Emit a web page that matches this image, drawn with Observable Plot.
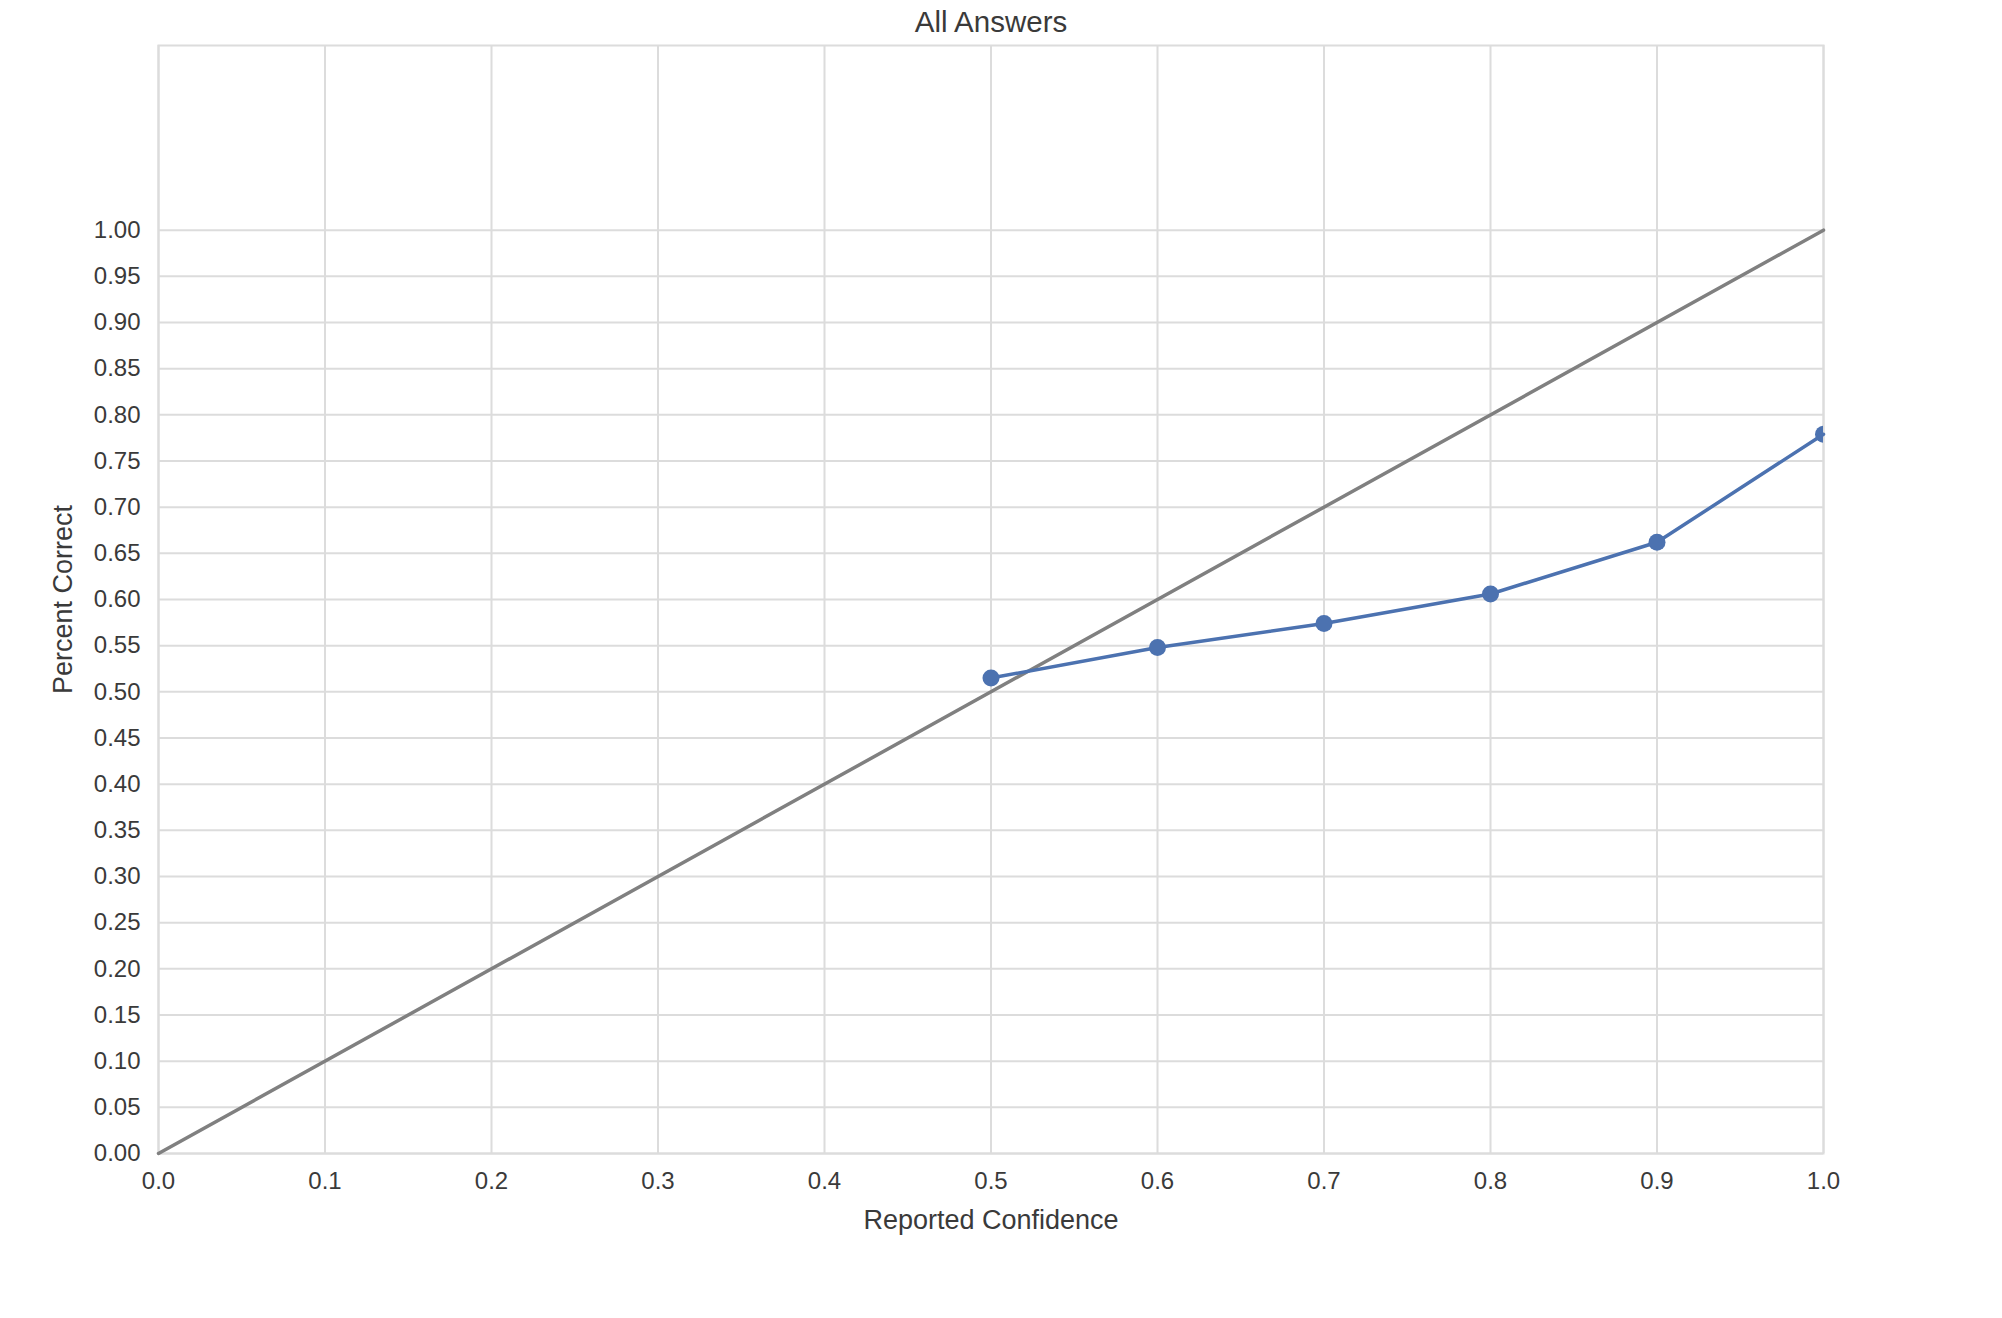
<!DOCTYPE html>
<html>
<head>
<meta charset="utf-8">
<script src="https://cdn.jsdelivr.net/npm/d3@7"></script>
<script src="https://cdn.jsdelivr.net/npm/@observablehq/plot@0.6"></script>
<style>
  html, body { margin: 0; padding: 0; background: white; }
</style>
</head>
<body>
<div id="chart"></div>
<script>
const confidence = [0.5, 0.6, 0.7, 0.8, 0.9, 1.0];
const percentCorrect = [0.515, 0.548, 0.574, 0.606, 0.662, 0.779];
const diagonalX = [0, 1];
const diagonalY = [0, 1];
const xTicks = [0, 0.1, 0.2, 0.3, 0.4, 0.5, 0.6, 0.7, 0.8, 0.9, 1.0];
const yTicks = [0, 0.05, 0.10, 0.15, 0.20, 0.25, 0.30, 0.35, 0.40, 0.45, 0.50,
                0.55, 0.60, 0.65, 0.70, 0.75, 0.80, 0.85, 0.90, 0.95, 1.00];
const title = "All Answers";
const xLabel = "Reported Confidence";
const yLabel = "Percent Correct";

const series = confidence.map((c, i) => ({x: c, y: percentCorrect[i]}));
const diagonal = diagonalX.map((c, i) => ({x: c, y: diagonalY[i]}));

const gridColor = "#dcdcdc";
const textColor = "#3a3a3a";
const font = "'Liberation Sans', Arial, Helvetica, sans-serif";

const chart = Plot.plot({
  width: 2002,
  height: 1318,
  marginTop: 45,
  marginLeft: 158,
  marginRight: 179,
  marginBottom: 165,
  style: {fontFamily: font, fontSize: "24px", color: textColor, background: "white"},
  x: {domain: [0, 1]},
  y: {domain: [0, 1.2]},
  marks: [
    Plot.ruleX(xTicks, {stroke: gridColor, strokeWidth: 2}),
    Plot.ruleY(yTicks, {stroke: gridColor, strokeWidth: 2}),
    Plot.frame({stroke: gridColor, strokeWidth: 2}),
    Plot.axisX({ticks: xTicks, tickSize: 0, tickPadding: 18, tickFormat: d3.format(".1f"), label: null, fill: textColor}),
    Plot.axisY({ticks: yTicks, tickSize: 0, tickPadding: 18, tickFormat: d3.format(".2f"), label: null, fill: textColor}),
    Plot.line(diagonal, {x: "x", y: "y", stroke: "#808080", strokeWidth: 3.5}),
    Plot.line(series, {x: "x", y: "y", stroke: "#4C72B0", strokeWidth: 3.5}),
    Plot.dot(series, {x: "x", y: "y", r: 8.5, fill: "#4C72B0", stroke: "none", clip: true}),
    Plot.text([title], {frameAnchor: "top", dy: -23, text: d => d, fontSize: 29.5, fill: textColor, lineAnchor: "middle", textAnchor: "middle"}),
    Plot.text([xLabel], {frameAnchor: "bottom", dy: 67, text: d => d, fontSize: 27, fill: textColor, lineAnchor: "middle", textAnchor: "middle"}),
    Plot.text([yLabel], {frameAnchor: "left", dx: -95, text: d => d, fontSize: 27, fill: textColor, rotate: -90, lineAnchor: "middle", textAnchor: "middle"})
  ]
});
document.getElementById("chart").appendChild(chart);
</script>
</body>
</html>
